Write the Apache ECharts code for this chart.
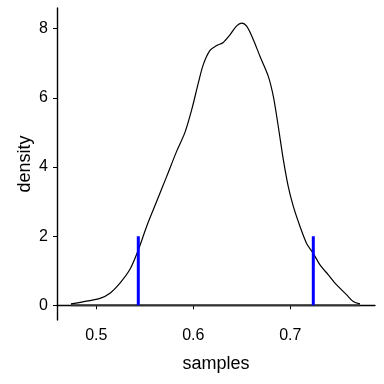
<!DOCTYPE html>
<html>
<head>
<meta charset="utf-8">
<script src="https://cdn.jsdelivr.net/npm/echarts@6/dist/echarts.min.js"></script>
<style>html,body{margin:0;padding:0;background:#fff}#c{width:384px;height:384px}</style>
</head>
<body>
<div id="c"></div>
<script>
// density curve (samples, density)
var densX = [0.4739,0.4900,0.5038,0.5141,0.5244,0.5347,0.5433,0.5519,0.5622,0.5725,0.5828,0.5914,0.5983,0.6052,0.6103,0.6172,0.6241,0.6309,0.6378,0.6447,0.6498,0.6550,0.6619,0.6687,0.6773,0.6825,0.6876,0.6928,0.6979,0.7031,0.7100,0.7168,0.7237,0.7306,0.7392,0.7478,0.7581,0.7649,0.7718];
var densY = [0.04,0.12,0.20,0.35,0.64,1.04,1.60,2.28,3.00,3.72,4.45,5.00,5.65,6.43,6.96,7.37,7.51,7.60,7.82,8.08,8.16,8.07,7.68,7.20,6.62,6.04,5.17,4.21,3.43,2.86,2.28,1.79,1.50,1.17,0.88,0.59,0.30,0.11,0.04];
// interval bounds (blue lines)
var boundX = [0.5433, 0.7237];
var boundTop = 2;
var xTicks = [0.5, 0.6, 0.7];
var yTicks = [0, 2, 4, 6, 8];

var curve = densX.map(function(x, i){ return [x, densY[i]]; });
var base = [[densX[0], 0], [densX[densX.length-1], 0]];
var series = [
  {type:'line', data: base, symbol:'none', lineStyle:{color:'#333333', width:2}, silent:true, z:2},
  {type:'line', data: curve, symbol:'none', smooth:0.3, lineStyle:{color:'#000', width:1.2}, silent:true, z:3}
];
boundX.forEach(function(bx){
  series.push({type:'line', data:[[bx,0],[bx,boundTop]], symbol:'none', lineStyle:{color:'#0000ff', width:3}, silent:true, z:4});
});
var fontFam = '"Liberation Sans", Arial, Helvetica, sans-serif';
var chart = echarts.init(document.getElementById('c'), null, {renderer:'canvas'});
chart.setOption({
  animation:false,
  backgroundColor:'#fff',
  grid:{left:57, right:9, top:8, bottom:64, containLabel:false},
  xAxis:{
    type:'value', min:0.4595, max:0.7873,
    name:'samples', nameLocation:'middle', nameGap:35, nameMoveOverlap:false,
    nameTextStyle:{color:'#000', fontSize:18, fontFamily:fontFam},
    axisLine:{show:true, lineStyle:{color:'#000', width:1.4}},
    axisTick:{show:true, length:4, customValues:xTicks, lineStyle:{color:'#000', width:1}},
    axisLabel:{customValues:xTicks, margin:8, color:'#000', fontSize:16, fontFamily:fontFam, formatter:function(v){return v.toFixed(1);}},
    splitLine:{show:false}
  },
  yAxis:{
    type:'value', min:-0.425, max:8.596,
    name:'density', nameLocation:'middle', nameGap:23, nameMoveOverlap:false,
    nameTextStyle:{color:'#000', fontSize:18, fontFamily:fontFam},
    axisLine:{show:true, lineStyle:{color:'#000', width:1.4}},
    axisTick:{show:true, length:4, customValues:yTicks, lineStyle:{color:'#000', width:1}},
    axisLabel:{customValues:yTicks, margin:9, color:'#000', fontSize:16, fontFamily:fontFam},
    splitLine:{show:false}
  },
  series: series
});
</script>
</body>
</html>
